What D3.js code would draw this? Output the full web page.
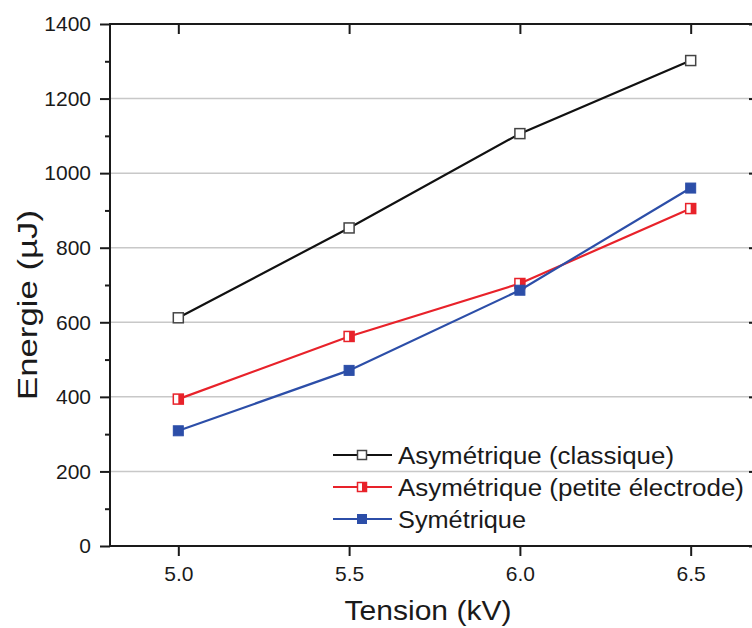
<!DOCTYPE html>
<html><head><meta charset="utf-8">
<script src="https://cdn.jsdelivr.net/npm/d3@7"></script>
<style>body{margin:0;background:#fff;} svg{display:block;font-family:"Liberation Sans",Arial,sans-serif;}</style>
</head><body>
<svg id="c" width="752" height="628"></svg>
<script>
const tension = [5.0, 5.5, 6.0, 6.5];
const classique = [612, 853, 1106, 1302];
const petite = [394, 562, 704, 905];
const symetrique = [309, 471, 686, 960];
const seriesNames = ["Asymétrique (classique)", "Asymétrique (petite électrode)", "Symétrique"];
const xTicks = [5.0, 5.5, 6.0, 6.5];
const yTicks = [0, 200, 400, 600, 800, 1000, 1200, 1400];
const yMinor = [100, 300, 500, 700, 900, 1100, 1300];

const svg = d3.select("#c");
const L = 110, R = 759, T = 24, B = 546;
const x = d3.scaleLinear().domain([4.8, 6.7]).range([L, R]);
const y = d3.scaleLinear().domain([0, 1400]).range([B, T]);

svg.append("g").selectAll("line").data(yTicks.filter(v => v > 0 && v < 1400)).join("line")
  .attr("x1", L).attr("x2", R).attr("y1", d => y(d)).attr("y2", d => y(d))
  .attr("stroke", "#c8c8c8").attr("stroke-width", 1.5);

const axisColor = "#1a1a1a";
function styleAxis(g, fs) {
  g.select(".domain").remove();
  g.selectAll(".tick line").attr("stroke", axisColor).attr("stroke-width", 2);
  g.selectAll("text").attr("fill", "#1a1a1a").style("font-size", fs + "px");
}
const gl = svg.append("g").attr("transform", `translate(${L},0)`)
  .call(d3.axisLeft(y).tickValues(yTicks).tickSize(10).tickPadding(9).tickFormat(d3.format("d")));
styleAxis(gl, 21);
svg.append("g").attr("transform", `translate(${L},0)`)
  .call(d3.axisLeft(y).tickValues(yMinor).tickSize(5).tickFormat(""))
  .call(g => { g.select(".domain").remove(); g.selectAll("line").attr("stroke", axisColor).attr("stroke-width", 2); });
svg.append("g").attr("transform", `translate(${R},0)`)
  .call(d3.axisLeft(y).tickValues(yTicks).tickSize(10).tickFormat(""))
  .call(g => { g.select(".domain").remove(); g.selectAll("line").attr("stroke", axisColor).attr("stroke-width", 2); });
const gb = svg.append("g").attr("transform", `translate(0,${B})`)
  .call(d3.axisBottom(x).tickValues(xTicks).tickSize(10).tickPadding(10).tickFormat(d3.format(".1f")));
styleAxis(gb, 21);
svg.append("g").attr("transform", `translate(0,${T})`)
  .call(d3.axisBottom(x).tickValues(xTicks).tickSize(10).tickFormat(""))
  .call(g => { g.select(".domain").remove(); g.selectAll("line").attr("stroke", axisColor).attr("stroke-width", 2); });
svg.append("rect").attr("x", L).attr("y", T).attr("width", R - L).attr("height", B - T)
  .attr("fill", "none").attr("stroke", axisColor).attr("stroke-width", 2);

svg.append("text").attr("x", 428).attr("y", 620).attr("text-anchor", "middle")
  .style("font-size", "28px").attr("fill", "#1a1a1a")
  .attr("textLength", 167).attr("lengthAdjust", "spacingAndGlyphs").text("Tension (kV)");
svg.append("text").attr("transform", "translate(37,305) rotate(-90)").attr("text-anchor", "middle")
  .style("font-size", "28px").attr("fill", "#1a1a1a")
  .attr("textLength", 190).attr("lengthAdjust", "spacingAndGlyphs").text("Energie (µJ)");

const colors = ["#111111", "#e8222a", "#2c4ea8"];
const data = [classique, petite, symetrique];
const line = d3.line().x((d, i) => x(tension[i])).y(d => y(d));

function marker(g, cx, cy, k, s) {
  const h = s / 2;
  if (k === 0) {
    g.append("rect").attr("x", cx - h).attr("y", cy - h).attr("width", s).attr("height", s)
      .attr("fill", "#fff").attr("stroke", "#444").attr("stroke-width", 1.5);
  } else if (k === 1) {
    g.append("rect").attr("x", cx - h).attr("y", cy - h).attr("width", s).attr("height", s)
      .attr("fill", "#fff").attr("stroke", colors[1]).attr("stroke-width", 1.5);
    g.append("rect").attr("x", cx).attr("y", cy - h).attr("width", h).attr("height", s)
      .attr("fill", colors[1]);
  } else {
    g.append("rect").attr("x", cx - h).attr("y", cy - h).attr("width", s).attr("height", s)
      .attr("fill", colors[2]).attr("stroke", colors[2]).attr("stroke-width", 1);
  }
}

data.forEach((vals, k) => {
  svg.append("path").datum(vals).attr("d", line).attr("fill", "none")
    .attr("stroke", colors[k]).attr("stroke-width", 2.2);
  const g = svg.append("g");
  vals.forEach((v, i) => marker(g, x(tension[i]), y(v), k, 10));
});

const legY = [455, 487, 519];
const legW = [276, 346, 128];
seriesNames.forEach((n, k) => {
  const g = svg.append("g");
  g.append("line").attr("x1", 333).attr("x2", 392).attr("y1", legY[k]).attr("y2", legY[k])
    .attr("stroke", colors[k]).attr("stroke-width", 2.2);
  marker(g, 362, legY[k], k, 9);
  g.append("text").attr("x", 398).attr("y", legY[k] + 8.5).style("font-size", "23px")
    .attr("fill", "#1a1a1a").attr("textLength", legW[k]).attr("lengthAdjust", "spacingAndGlyphs").text(n);
});
</script>
</body></html>
